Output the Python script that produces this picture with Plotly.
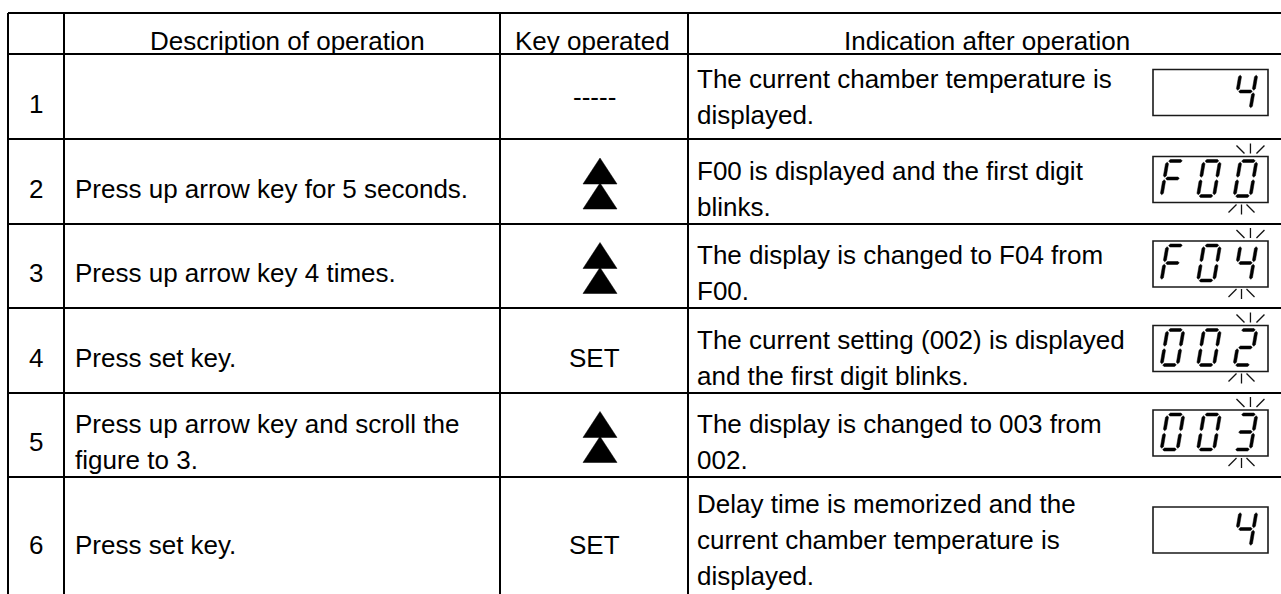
import plotly.graph_objects as go

# ------------------------------------------------------------------ data
headers = ["", "Description of operation", "Key operated", "Indication after operation"]
steps = ["1", "2", "3", "4", "5", "6"]
descriptions = [
    [],
    ["Press up arrow key for 5 seconds."],
    ["Press up arrow key 4 times."],
    ["Press set key."],
    ["Press up arrow key and scroll the", "figure to 3."],
    ["Press set key."],
]
keys = ["-----", "UP", "UP", "SET", "UP", "SET"]
indications = [
    ["The current chamber temperature is", "displayed."],
    ["F00 is displayed and the first digit", "blinks."],
    ["The display is changed to F04 from", "F00."],
    ["The current setting (002) is displayed", "and the first digit blinks."],
    ["The display is changed to 003 from", "002."],
    ["Delay time is memorized and the", "current chamber temperature is", "displayed."],
]
displays = ["  4", "F00", "F04", "002", "003", "  4"]
blink_digit = [None, 2, 2, 2, 2, None]

# ------------------------------------------------------------------ layout geometry
W, H = 1281, 594
col_x = [8, 64, 500, 688]          # vertical rules
row_y = [13, 54, 139, 224, 308, 393, 477, 599]  # horizontal rules (last is off-page)
LW = 2
FONT = "Arial, Liberation Sans, sans-serif"
FS = 26
LINE = 36
TXT_OFF = 7                          # text sits a little below cell centre
ind_off = [0.5, 7, 7, 7, 7, 2]       # vertical offsets of indication text blocks
box_off = [-4, -2, -2, -2, -2, -8]   # vertical offsets of display boxes
hdr_x = [36, 287, 592, 987]
num_x = 36
desc_x = 73
key_x = 594
arrow_x = 600
ind_x = 695
box_l, box_r, box_h = 1153, 1268, 46
DIG_L, DIG_P = 8.5, 36.5

fig = go.Figure()
shapes = []
ann = []

def line(x0, y0, x1, y1, w=LW, c="black"):
    shapes.append(dict(type="line", xref="x", yref="y", x0=x0, y0=y0, x1=x1, y1=y1,
                       line=dict(color=c, width=w)))

def text(x, y, s, anchor="left"):
    ann.append(dict(x=x, y=y, xref="x", yref="y", text=s, showarrow=False,
                    xanchor=anchor, yanchor="middle",
                    font=dict(family=FONT, size=FS, color="black")))

# grid
for y in row_y[:-1]:
    line(col_x[0], y, W + 5, y)
for x in col_x:
    line(x, row_y[0], x, H + 5)

# header
for i, h in enumerate(headers):
    if h:
        text(hdr_x[i], (row_y[0] + row_y[1]) / 2 + TXT_OFF, h, "center")

# seven segment helpers
SEGS = {"0": "abcdef", "2": "abged", "3": "abgcd", "4": "fgbc", "F": "afge", " ": ""}
DW, DH, T, G, SL = 16, 35, 3.0, 1.2, 0.17

def seg_poly(seg):
    h = T / 2
    def hor(v0):
        return ([G, G + h, DW - G - h, DW - G, DW - G - h, G + h],
                [v0, v0 + h, v0 + h, v0, v0 - h, v0 - h])
    def ver(u0, va, vb):
        return ([u0, u0 + h, u0 + h, u0, u0 - h, u0 - h],
                [va + G, va + G + h, vb - G - h, vb - G, vb - G - h, va + G + h])
    return {
        "a": hor(DH), "g": hor(DH / 2), "d": hor(0),
        "f": ver(0, DH / 2, DH), "e": ver(0, 0, DH / 2),
        "b": ver(DW, DH / 2, DH), "c": ver(DW, 0, DH / 2),
    }[seg]

dig_x, dig_y = [], []
ray_x, ray_y = [], []
tri_x, tri_y = [], []

for r in range(6):
    top, bot = row_y[r + 1], row_y[r + 2]
    cy = (top + bot) / 2
    # step number
    text(num_x, cy + TXT_OFF, steps[r], "center")
    # description
    d = descriptions[r]
    for k, s in enumerate(d):
        text(desc_x, cy + TXT_OFF + (k - (len(d) - 1) / 2) * LINE, s)
    # key
    if keys[r] == "UP":
        ay = cy + 1.5
        for apex in (ay - 25, ay):
            tri_x += [arrow_x, arrow_x + 17, arrow_x - 17, arrow_x, None]
            tri_y += [apex, apex + 26, apex + 26, apex, None]
    elif keys[r] == "-----":
        text(key_x, cy, keys[r], "center")
    else:
        text(key_x, cy + TXT_OFF, keys[r], "center")
    # indication text
    ind = indications[r]
    for k, s in enumerate(ind):
        text(ind_x, cy + ind_off[r] + (k - (len(ind) - 1) / 2) * LINE, s)
    # display box
    bc = cy + box_off[r]
    bt, bb = bc - box_h / 2, bc + box_h / 2
    shapes.append(dict(type="rect", xref="x", yref="y", x0=box_l, x1=box_r, y0=bt, y1=bb,
                       line=dict(color="#1a1a1a", width=1.6)))
    ybase = bb - 6.5
    for i, ch in enumerate(displays[r]):
        x0 = box_l + DIG_L + DIG_P * i
        for sg in SEGS[ch]:
            us, vs = seg_poly(sg)
            dig_x += [x0 + u + SL * v for u, v in zip(us, vs)] + [x0 + us[0] + SL * vs[0], None]
            dig_y += [ybase - v for v in vs] + [ybase - vs[0], None]
    if blink_digit[r] is not None:
        x0 = box_l + DIG_L + DIG_P * blink_digit[r]
        cxt = x0 + DW / 2 + SL * DH + 2
        cxb = x0 + DW / 2 - 1
        segs = [((cxt - 14, bt - 11), (cxt - 6, bt - 3)),
                ((cxt, bt - 13), (cxt, bt - 3)),
                ((cxt + 14, bt - 11), (cxt + 6, bt - 3)),
                ((cxb - 5, bb + 2), (cxb - 13, bb + 10)),
                ((cxb, bb + 2), (cxb, bb + 12)),
                ((cxb + 5, bb + 2), (cxb + 13, bb + 10))]
        for (p, q) in segs:
            ray_x += [p[0], q[0], None]
            ray_y += [p[1], q[1], None]

fig.add_trace(go.Scatter(x=tri_x, y=tri_y, mode="lines", fill="toself", fillcolor="black",
                         line=dict(color="black", width=0.5), hoverinfo="skip"))
fig.add_trace(go.Scatter(x=dig_x, y=dig_y, mode="lines", fill="toself", fillcolor="black",
                         line=dict(color="black", width=0.5), hoverinfo="skip"))
fig.add_trace(go.Scatter(x=ray_x, y=ray_y, mode="lines",
                         line=dict(color="#111111", width=1.3), hoverinfo="skip"))

fig.update_layout(
    width=W, height=H, margin=dict(l=0, r=0, t=0, b=0),
    paper_bgcolor="white", plot_bgcolor="white", showlegend=False,
    xaxis=dict(range=[0, W], visible=False, fixedrange=True),
    yaxis=dict(range=[H, 0], visible=False, fixedrange=True),
    shapes=shapes, annotations=ann,
)

fig.write_html("out.html", config={"displayModeBar": False, "staticPlot": True},
               post_script="document.body.style.margin='0';document.body.style.overflow='hidden';")
